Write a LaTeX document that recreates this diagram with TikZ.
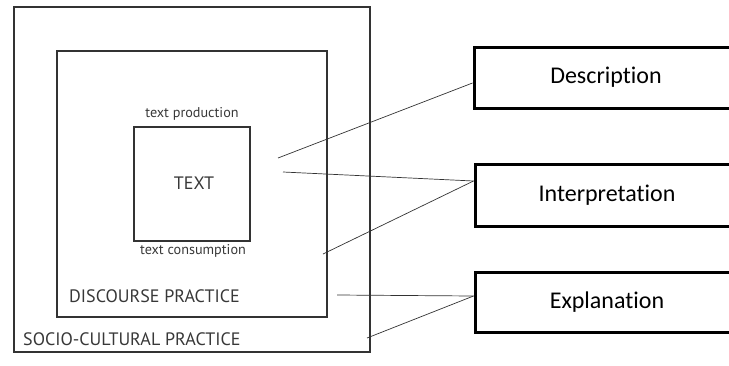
\documentclass[tikz,border=0pt]{standalone}
\usepackage{fontspec}
\setmainfont[Ligatures=NoCommon]{Carlito}
\newfontfamily\layerfont{PT Sans}
\usetikzlibrary{positioning}
\tikzstyle{layer} = [rectangle, draw=black!80, line width=1.6pt, inner sep=0pt]
\tikzstyle{stage} = [rectangle, draw=black, line width=3pt, minimum width=264pt, text centered, font=\fontsize{24}{28}\selectfont]
\tikzstyle{layername} = [text=black!78, inner sep=0pt, font=\layerfont\fontsize{18}{21}\selectfont]
\tikzstyle{note} = [text=black!78, inner sep=0pt, font=\layerfont\fontsize{14.2}{16}\selectfont]
\tikzstyle{link} = [line width=0.7pt, draw=black!80]

\begin{document}
\begin{tikzpicture}[x=1pt, y=-1pt]
        \useasboundingbox (0,0) rectangle (729,365);
        % nested practice layers
        \node (socio) [layer, minimum width=356pt, minimum height=345pt] at (192,179.5) {};
        \node (disc) [layer, minimum width=270pt, minimum height=266pt] at (192,184) {};
        \node (txt) [layer, minimum width=116pt, minimum height=114pt] at (192,184) {};
        \node (tname) [layername] at (194,183) {TEXT};
        \node (prod) [note] at (192,114) {text production};
        \node (cons) [note] at (193,251) {text consumption};
        \node (dname) [layername, anchor=west] at (69,296) {DISCOURSE PRACTICE};
        \node (sname) [layername, anchor=west] at (23,339) {SOCIO-CULTURAL PRACTICE};
        % analysis stages
        \node (desc) [stage, minimum height=61pt] at (606,77.5) {Description};
        \node (interp) [stage, minimum height=62pt] at (607,195) {Interpretation};
        \node (expl) [stage, minimum height=60pt] at (607,302) {Explanation};
        % free ends of the connectors
        \coordinate (c1) at (278,158);
        \coordinate (c2) at (283,172);
        \coordinate (c3) at (323,254);
        \coordinate (c4) at (337,295);
        \coordinate (c5) at (367,338);
        \draw [link] (c1) -- ([yshift=-5.5pt]desc.west);
        \draw [link] (c2) -- ([yshift=14pt]interp.west);
        \draw [link] (c3) -- ([yshift=14pt]interp.west);
        \draw [link] (c4) -- ([yshift=6pt]expl.west);
        \draw [link] (c5) -- ([yshift=6pt]expl.west);
    \end{tikzpicture}
\end{document}
